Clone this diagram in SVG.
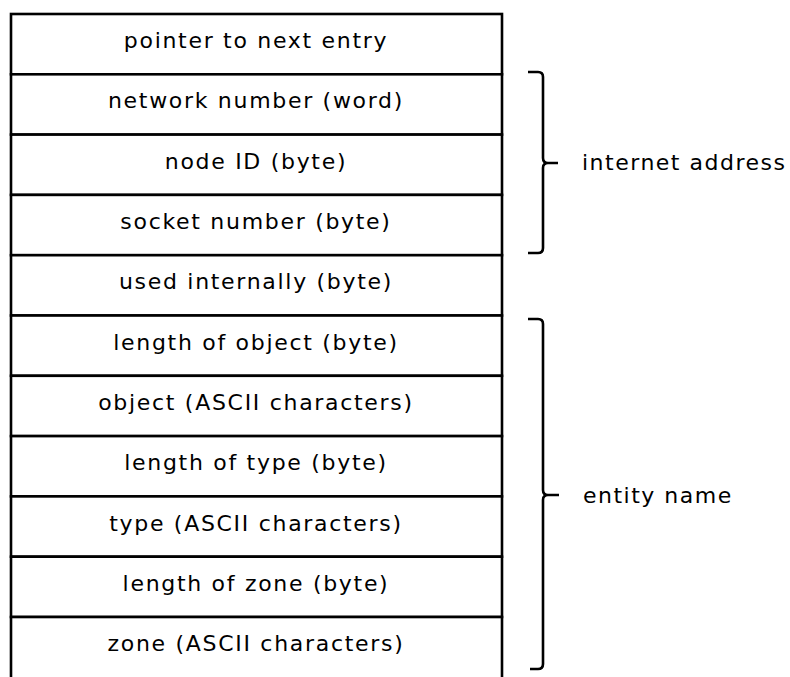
<svg xmlns="http://www.w3.org/2000/svg" width="790" height="677" viewBox="0 0 790 677">
<style>
.row { fill: #fff; stroke: #000; stroke-width: 2.6; }
.lbl { font-family: "DejaVu Sans", "Liberation Sans", sans-serif; font-size: 22px; letter-spacing: 1.7px; fill: #000; text-anchor: middle; }
.side { font-family: "DejaVu Sans", "Liberation Sans", sans-serif; font-size: 22px; letter-spacing: 1.5px; fill: #000; }
.brace { fill: none; stroke: #000; stroke-width: 2.6; stroke-linejoin: round; }
</style>
<rect width="790" height="677" fill="#fff"/>
<g id="record">
  <g id="n1"><rect class="row" x="11" y="14" width="491" height="60.3"/><text class="lbl" x="256" y="48">pointer to next entry</text></g>
  <g id="n2"><rect class="row" x="11" y="74.3" width="491" height="60.3"/><text class="lbl" x="256" y="108">network number (word)</text></g>
  <g id="n3"><rect class="row" x="11" y="134.6" width="491" height="60.3"/><text class="lbl" x="256" y="169">node ID (byte)</text></g>
  <g id="n4"><rect class="row" x="11" y="194.9" width="491" height="60.3"/><text class="lbl" x="256" y="229">socket number (byte)</text></g>
  <g id="n5"><rect class="row" x="11" y="255.2" width="491" height="60.3"/><text class="lbl" x="256" y="289">used internally (byte)</text></g>
  <g id="n6"><rect class="row" x="11" y="315.5" width="491" height="60.3"/><text class="lbl" x="256" y="350">length of object (byte)</text></g>
  <g id="n7"><rect class="row" x="11" y="375.8" width="491" height="60.3"/><text class="lbl" x="256" y="410">object (ASCII characters)</text></g>
  <g id="n8"><rect class="row" x="11" y="436.1" width="491" height="60.3"/><text class="lbl" x="256" y="470">length of type (byte)</text></g>
  <g id="n9"><rect class="row" x="11" y="496.4" width="491" height="60.3"/><text class="lbl" x="256" y="531">type (ASCII characters)</text></g>
  <g id="n10"><rect class="row" x="11" y="556.7" width="491" height="60.3"/><text class="lbl" x="256" y="591">length of zone (byte)</text></g>
  <g id="n11"><rect class="row" x="11" y="617" width="491" height="62"/><text class="lbl" x="256" y="651">zone (ASCII characters)</text></g>
</g>
<g id="connectors">
  <path class="brace" d="M528,72 L538,72 Q543,72 543,77 L543,158 Q543,163 548,163 L558,163 M548,163 Q543,163 543,168 L543,248 Q543,253 538,253 L528,253"/>
  <path class="brace" d="M528,319 L538,319 Q543,319 543,324 L543,490 Q543,495 548,495 L559,495 M548,495 Q543,495 543,500 L543,664 Q543,669 538,669 L530,669"/>
</g>
<g id="internet-address"><text class="side" x="582" y="170">internet address</text></g>
<g id="entity-name"><text class="side" x="583" y="503">entity name</text></g>
</svg>
